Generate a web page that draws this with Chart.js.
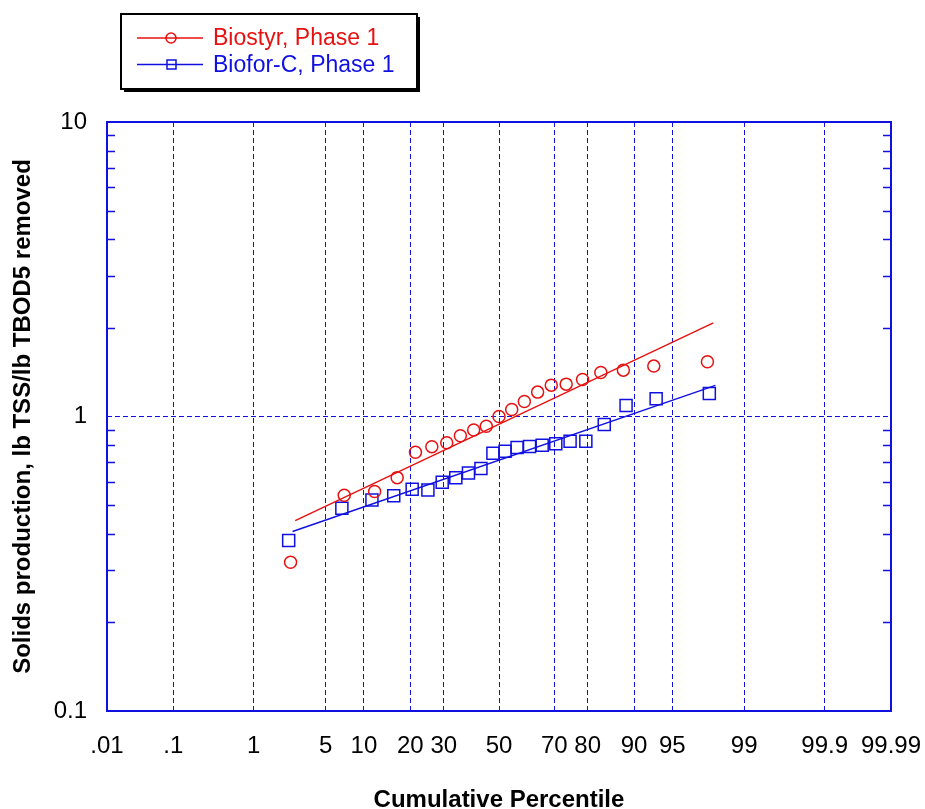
<!DOCTYPE html>
<html>
<head>
<meta charset="utf-8">
<title>Solids production probability plot</title>
<script src="https://cdn.jsdelivr.net/npm/chart.js@4.4.1/dist/chart.umd.min.js"></script>
<style>
  html, body { margin: 0; padding: 0; background: #fff; }
  #wrap { width: 925px; height: 809px; }
</style>
</head>
<body>
<div id="wrap"><canvas id="chart" width="925" height="809"></canvas></div>
<script>
// cumulative percentile ticks on the probability axis
const percentTicks = [0.01, 0.1, 1, 5, 10, 20, 30, 50, 70, 80, 90, 95, 99, 99.9, 99.99];
const percentLabels = ['.01', '.1', '1', '5', '10', '20', '30', '50', '70', '80', '90', '95', '99', '99.9', '99.99'];
const yMajor = [0.1, 1, 10];
const yMajorLabels = ['0.1', '1', '10'];

// Biostyr, Phase 1
const biostyrPct = [2.4, 7.1, 11.9, 16.7, 21.4, 26.2, 31.0, 35.7, 40.5, 45.2, 50.0,
  54.8, 59.5, 64.3, 69.0, 73.8, 78.6, 83.3, 88.1, 92.9, 97.6];
const biostyrVal = [0.32, 0.54, 0.556, 0.62, 0.756, 0.79, 0.814, 0.86, 0.90, 0.927, 1.0,
  1.056, 1.125, 1.21, 1.278, 1.288, 1.336, 1.41, 1.437, 1.483, 1.535];
const biostyrFitPct = [2.66, 97.9];
const biostyrFitVal = [0.443, 2.08];

// Biofor-C, Phase 1
const biofortPct = [2.3, 6.8, 11.4, 15.9, 20.5, 25.0, 29.5, 34.1, 38.6, 43.2, 47.7,
  52.3, 56.8, 61.4, 65.9, 70.5, 75.0, 79.5, 84.1, 88.6, 93.2, 97.7];
const biofortVal = [0.379, 0.488, 0.521, 0.538, 0.566, 0.563, 0.598, 0.62, 0.643, 0.666, 0.75,
  0.762, 0.785, 0.791, 0.799, 0.808, 0.824, 0.824, 0.939, 1.09, 1.149, 1.197];
const biofortFitPct = [2.51, 98.0];
const biofortFitVal = [0.407, 1.275];

const RED = 'rgb(232,16,16)';
const BLUE = 'rgb(16,16,225)';
const FONT = "'Liberation Sans', Arial, sans-serif";

// inverse normal CDF (Acklam), p in (0,1)
function probit(p) {
  const a = [-39.69683028665376, 220.9460984245205, -275.9285104469687, 138.3577518672690, -30.66479806614716, 2.506628277459239];
  const b = [-54.47609879822406, 161.5858368580409, -155.6989798598866, 66.80131188771972, -13.28068155288572];
  const c = [-0.007784894002430293, -0.3223964580411365, -2.400758277161838, -2.549732539343734, 4.374664141464968, 2.938163982698783];
  const d = [0.007784695709041462, 0.3224671290700398, 2.445134137142996, 3.754408661907416];
  const plow = 0.02425, phigh = 1 - plow;
  let q, r;
  if (p < plow) {
    q = Math.sqrt(-2 * Math.log(p));
    return (((((c[0]*q+c[1])*q+c[2])*q+c[3])*q+c[4])*q+c[5]) / ((((d[0]*q+d[1])*q+d[2])*q+d[3])*q+1);
  }
  if (p > phigh) {
    q = Math.sqrt(-2 * Math.log(1 - p));
    return -(((((c[0]*q+c[1])*q+c[2])*q+c[3])*q+c[4])*q+c[5]) / ((((d[0]*q+d[1])*q+d[2])*q+d[3])*q+1);
  }
  q = p - 0.5;
  r = q * q;
  return (((((a[0]*r+a[1])*r+a[2])*r+a[3])*r+a[4])*r+a[5])*q / (((((b[0]*r+b[1])*r+b[2])*r+b[3])*r+b[4])*r+1);
}

const toPoints = (pct, vals) => pct.map((p, i) => ({ x: probit(p / 100), y: vals[i] }));

const xTickZ = percentTicks.map(p => probit(p / 100));
const yTicks = [];
for (let dec = 0.1; dec < 10; dec *= 10) {
  for (let m = 1; m < 10; m++) yTicks.push(+(m * dec).toPrecision(2));
}
yTicks.push(10);

// plot frame, minor log ticks and boxed legend
const framePlugin = {
  id: 'frame',
  beforeDatasetsDraw(chart) {
    const { ctx, chartArea: a } = chart;
    const ys = chart.scales.y;
    ctx.save();
    ctx.strokeStyle = BLUE;
    ctx.lineWidth = 1.5;
    yTicks.forEach(v => {
      if (yMajor.includes(v)) return;
      const py = Math.round(ys.getPixelForValue(v)) + 0.5;
      ctx.beginPath();
      ctx.moveTo(a.left, py); ctx.lineTo(a.left + 8, py);
      ctx.moveTo(a.right - 8, py); ctx.lineTo(a.right, py);
      ctx.stroke();
    });
    ctx.lineWidth = 2;
    ctx.strokeRect(a.left, a.top, a.right - a.left, a.bottom - a.top);
    ctx.restore();
  },
  afterDraw(chart) {
    const ctx = chart.ctx;
    const bx = 121, by = 14, bw = 296, bh = 75;
    ctx.save();
    ctx.fillStyle = '#000';
    ctx.fillRect(bx + 3, by + 3, bw, bh);
    ctx.fillStyle = '#fff';
    ctx.fillRect(bx, by, bw, bh);
    ctx.strokeStyle = '#000';
    ctx.lineWidth = 2;
    ctx.strokeRect(bx, by, bw, bh);

    const rows = [
      { y: 38, color: RED, label: 'Biostyr, Phase 1', marker: 'circle' },
      { y: 64.5, color: BLUE, label: 'Biofor-C, Phase 1', marker: 'square' }
    ];
    ctx.font = '23px ' + FONT;
    ctx.textBaseline = 'middle';
    rows.forEach(r => {
      ctx.strokeStyle = r.color;
      ctx.lineWidth = 1.3;
      ctx.beginPath();
      ctx.moveTo(137, r.y); ctx.lineTo(203, r.y);
      ctx.stroke();
      ctx.lineWidth = 1.5;
      ctx.beginPath();
      if (r.marker === 'circle') ctx.arc(171, r.y, 5, 0, Math.PI * 2);
      else ctx.rect(167, r.y - 4.5, 9, 9);
      ctx.stroke();
      ctx.fillStyle = r.color;
      ctx.fillText(r.label, 213, r.y + 1);
    });
    ctx.restore();
  }
};

new Chart(document.getElementById('chart'), {
  type: 'scatter',
  data: {
    datasets: [
      {
        label: 'Biostyr fit',
        data: toPoints(biostyrFitPct, biostyrFitVal),
        showLine: true, borderColor: RED, borderWidth: 1.4, pointRadius: 0
      },
      {
        label: 'Biofor-C fit',
        data: toPoints(biofortFitPct, biofortFitVal),
        showLine: true, borderColor: BLUE, borderWidth: 1.4, pointRadius: 0
      },
      {
        label: 'Biostyr, Phase 1',
        data: toPoints(biostyrPct, biostyrVal),
        pointStyle: 'circle', pointRadius: 6, borderColor: RED, borderWidth: 1.5,
        backgroundColor: 'transparent'
      },
      {
        label: 'Biofor-C, Phase 1',
        data: toPoints(biofortPct, biofortVal),
        pointStyle: 'rect', pointRadius: 8.5, borderColor: BLUE, borderWidth: 1.5,
        backgroundColor: 'transparent'
      }
    ]
  },
  options: {
    responsive: false,
    animation: false,
    layout: { padding: { top: 122, right: 34, left: 0, bottom: 0 } },
    plugins: { legend: { display: false }, tooltip: { enabled: false } },
    scales: {
      x: {
        type: 'linear',
        min: xTickZ[0],
        max: xTickZ[xTickZ.length - 1],
        afterBuildTicks: s => { s.ticks = xTickZ.map(v => ({ value: v })); },
        afterFit: s => { s.height = 98; s.paddingLeft = 0; s.paddingRight = 0; },
        ticks: {
          autoSkip: false, maxRotation: 0, padding: 21, color: '#000',
          font: { family: FONT, size: 24 },
          callback: (v, i) => percentLabels[i]
        },
        grid: {
          drawTicks: false, lineWidth: 1,
          color: c => (c.index === 0 || c.index === xTickZ.length - 1) ? 'transparent' : BLUE
        },
        border: { display: false, dash: [5, 3] },
        title: {
          display: true, text: 'Cumulative Percentile', color: '#000',
          font: { family: FONT, size: 24, weight: 'bold', lineHeight: 0.75 },
          padding: { top: 0, bottom: 0 }
        }
      },
      y: {
        type: 'logarithmic',
        min: 0.1,
        max: 10,
        afterBuildTicks: s => { s.ticks = yTicks.map(v => ({ value: v })); },
        afterFit: s => { s.width = 107; s.paddingTop = 0; s.paddingBottom = 0; },
        ticks: {
          autoSkip: false, padding: 20, color: '#000',
          font: { family: FONT, size: 24 },
          callback: v => {
            const k = yMajor.indexOf(+(+v).toPrecision(2));
            return k >= 0 ? yMajorLabels[k] : '';
          }
        },
        grid: {
          drawTicks: false, lineWidth: 1,
          color: c => (c.tick && Math.abs(c.tick.value - 1) < 1e-9) ? BLUE : 'transparent'
        },
        border: { display: false, dash: [5, 3] },
        title: {
          display: true, text: 'Solids production, lb TSS/lb TBOD5 removed', color: '#000',
          font: { family: FONT, size: 24, weight: 'bold', lineHeight: 1 },
          padding: { top: 11, bottom: 0 }
        }
      }
    }
  },
  plugins: [framePlugin]
});
</script>
</body>
</html>
